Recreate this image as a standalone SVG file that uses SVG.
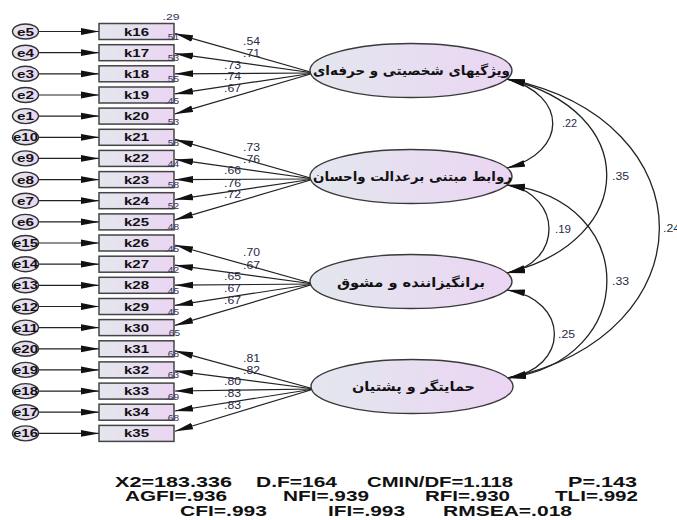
<svg xmlns="http://www.w3.org/2000/svg" width="677" height="520" viewBox="0 0 677 520">
<style>
.box{fill:url(#g);stroke:#444;stroke-width:1.5}
.err{fill:url(#g);stroke:#333;stroke-width:1.4}
.lat{fill:url(#g);stroke:#3a3a3a;stroke-width:1.4}
.ln{stroke:#222;stroke-width:1.2;fill:none;marker-end:url(#ah)}
.cv{stroke:#222;stroke-width:1.3;fill:none;marker-start:url(#ah);marker-end:url(#ah)}
.kt{font-family:"Liberation Sans",Arial,sans-serif;font-weight:bold;font-size:11px;fill:#111;text-anchor:middle}
.et{font-family:"Liberation Sans",Arial,sans-serif;font-weight:bold;font-size:11px;fill:#111;text-anchor:middle}
.lv{font-family:"Liberation Sans",Arial,sans-serif;font-size:10px;fill:#2a2a44}
.r2{font-family:"Liberation Sans",Arial,sans-serif;font-size:9.5px;fill:#33335a;text-anchor:middle}
.ft{font-family:"DejaVu Sans","Noto Sans",sans-serif;font-weight:bold;font-size:13px;fill:#111;text-anchor:middle}
.st{font-family:"Liberation Sans",Arial,sans-serif;font-weight:bold;font-size:14px;fill:#111}
</style>
<defs>
<linearGradient id="g" x1="0" y1="0" x2="1" y2="0">
<stop offset="0" stop-color="#e3e7ee"/>
<stop offset="1" stop-color="#ebd5f3"/>
</linearGradient>
<marker id="ah" viewBox="0 0 18 8" refX="18" refY="4" markerWidth="18" markerHeight="8" markerUnits="userSpaceOnUse" orient="auto-start-reverse">
<path d="M0,0.6 L18,4 L0,7.4 z" fill="#111"/>
</marker>
</defs>
<rect width="677" height="520" fill="#fff"/>

<g id="connectors">
<line class="ln" x1="39" y1="31.5" x2="99" y2="31.5"/>
<line class="ln" x1="39" y1="52.7" x2="99" y2="52.7"/>
<line class="ln" x1="39" y1="73.8" x2="99" y2="73.8"/>
<line class="ln" x1="39" y1="95" x2="99" y2="95"/>
<line class="ln" x1="39" y1="116.1" x2="99" y2="116.1"/>
<line class="ln" x1="39" y1="137.3" x2="99" y2="137.3"/>
<line class="ln" x1="39" y1="158.4" x2="99" y2="158.4"/>
<line class="ln" x1="39" y1="179.6" x2="99" y2="179.6"/>
<line class="ln" x1="39" y1="200.7" x2="99" y2="200.7"/>
<line class="ln" x1="39" y1="221.9" x2="99" y2="221.9"/>
<line class="ln" x1="39" y1="243" x2="99" y2="243"/>
<line class="ln" x1="39" y1="264.2" x2="99" y2="264.2"/>
<line class="ln" x1="39" y1="285.3" x2="99" y2="285.3"/>
<line class="ln" x1="39" y1="306.5" x2="99" y2="306.5"/>
<line class="ln" x1="39" y1="327.6" x2="99" y2="327.6"/>
<line class="ln" x1="39" y1="348.8" x2="99" y2="348.8"/>
<line class="ln" x1="39" y1="369.9" x2="99" y2="369.9"/>
<line class="ln" x1="39" y1="391.1" x2="99" y2="391.1"/>
<line class="ln" x1="39" y1="412.2" x2="99" y2="412.2"/>
<line class="ln" x1="39" y1="433.4" x2="99" y2="433.4"/>
<line class="ln" x1="314" y1="73" x2="175" y2="33.6"/>
<line class="ln" x1="314" y1="73" x2="175" y2="53.7"/>
<line class="ln" x1="314" y1="73" x2="175" y2="73.8"/>
<line class="ln" x1="314" y1="73" x2="175" y2="93.9"/>
<line class="ln" x1="314" y1="73" x2="175" y2="113.9"/>
<line class="ln" x1="314" y1="179" x2="175" y2="139.4"/>
<line class="ln" x1="314" y1="179" x2="175" y2="159.4"/>
<line class="ln" x1="314" y1="179" x2="175" y2="179.6"/>
<line class="ln" x1="314" y1="179" x2="175" y2="199.6"/>
<line class="ln" x1="314" y1="179" x2="175" y2="219.8"/>
<line class="ln" x1="314" y1="284" x2="175" y2="245"/>
<line class="ln" x1="314" y1="284" x2="175" y2="265.2"/>
<line class="ln" x1="314" y1="284" x2="175" y2="285.2"/>
<line class="ln" x1="314" y1="284" x2="175" y2="305.4"/>
<line class="ln" x1="314" y1="284" x2="175" y2="325.4"/>
<line class="ln" x1="314" y1="389" x2="175" y2="350.8"/>
<line class="ln" x1="314" y1="389" x2="175" y2="370.9"/>
<line class="ln" x1="314" y1="389" x2="175" y2="391"/>
<line class="ln" x1="314" y1="389" x2="175" y2="411"/>
<line class="ln" x1="314" y1="389" x2="175" y2="431.2"/>
<path class="cv" d="M507,79 C568,95 568,152 507,168"/>
<path class="cv" d="M507,79 C640,110 640,240 507,273"/>
<path class="cv" d="M507,79 C710,120 710,335 508,378"/>
<path class="cv" d="M507,185 C563,195 563,263 507,273"/>
<path class="cv" d="M507,185 C640,200 640,360 508,378"/>
<path class="cv" d="M507,290 C570,300 570,368 508,378"/>
</g>

<g id="errors">
<g id="e5"><ellipse class="err" cx="25.5" cy="31.5" rx="13" ry="7.5"/><text class="et" x="25.5" y="35.5" textLength="17" lengthAdjust="spacingAndGlyphs">e5</text></g>
<g id="e4"><ellipse class="err" cx="25.5" cy="52.7" rx="13" ry="7.5"/><text class="et" x="25.5" y="56.7" textLength="17" lengthAdjust="spacingAndGlyphs">e4</text></g>
<g id="e3"><ellipse class="err" cx="25.5" cy="73.8" rx="13" ry="7.5"/><text class="et" x="25.5" y="77.8" textLength="17" lengthAdjust="spacingAndGlyphs">e3</text></g>
<g id="e2"><ellipse class="err" cx="25.5" cy="95" rx="13" ry="7.5"/><text class="et" x="25.5" y="99" textLength="17" lengthAdjust="spacingAndGlyphs">e2</text></g>
<g id="e1"><ellipse class="err" cx="25.5" cy="116.1" rx="13" ry="7.5"/><text class="et" x="25.5" y="120.1" textLength="17" lengthAdjust="spacingAndGlyphs">e1</text></g>
<g id="e10"><ellipse class="err" cx="25.5" cy="137.3" rx="13" ry="7.5"/><text class="et" x="25.5" y="141.3" textLength="25" lengthAdjust="spacingAndGlyphs">e10</text></g>
<g id="e9"><ellipse class="err" cx="25.5" cy="158.4" rx="13" ry="7.5"/><text class="et" x="25.5" y="162.4" textLength="17" lengthAdjust="spacingAndGlyphs">e9</text></g>
<g id="e8"><ellipse class="err" cx="25.5" cy="179.6" rx="13" ry="7.5"/><text class="et" x="25.5" y="183.6" textLength="17" lengthAdjust="spacingAndGlyphs">e8</text></g>
<g id="e7"><ellipse class="err" cx="25.5" cy="200.7" rx="13" ry="7.5"/><text class="et" x="25.5" y="204.7" textLength="17" lengthAdjust="spacingAndGlyphs">e7</text></g>
<g id="e6"><ellipse class="err" cx="25.5" cy="221.9" rx="13" ry="7.5"/><text class="et" x="25.5" y="225.9" textLength="17" lengthAdjust="spacingAndGlyphs">e6</text></g>
<g id="e15"><ellipse class="err" cx="25.5" cy="243" rx="13" ry="7.5"/><text class="et" x="25.5" y="247" textLength="25" lengthAdjust="spacingAndGlyphs">e15</text></g>
<g id="e14"><ellipse class="err" cx="25.5" cy="264.2" rx="13" ry="7.5"/><text class="et" x="25.5" y="268.2" textLength="25" lengthAdjust="spacingAndGlyphs">e14</text></g>
<g id="e13"><ellipse class="err" cx="25.5" cy="285.3" rx="13" ry="7.5"/><text class="et" x="25.5" y="289.3" textLength="25" lengthAdjust="spacingAndGlyphs">e13</text></g>
<g id="e12"><ellipse class="err" cx="25.5" cy="306.5" rx="13" ry="7.5"/><text class="et" x="25.5" y="310.5" textLength="25" lengthAdjust="spacingAndGlyphs">e12</text></g>
<g id="e11"><ellipse class="err" cx="25.5" cy="327.6" rx="13" ry="7.5"/><text class="et" x="25.5" y="331.6" textLength="25" lengthAdjust="spacingAndGlyphs">e11</text></g>
<g id="e20"><ellipse class="err" cx="25.5" cy="348.8" rx="13" ry="7.5"/><text class="et" x="25.5" y="352.8" textLength="25" lengthAdjust="spacingAndGlyphs">e20</text></g>
<g id="e19"><ellipse class="err" cx="25.5" cy="369.9" rx="13" ry="7.5"/><text class="et" x="25.5" y="373.9" textLength="25" lengthAdjust="spacingAndGlyphs">e19</text></g>
<g id="e18"><ellipse class="err" cx="25.5" cy="391.1" rx="13" ry="7.5"/><text class="et" x="25.5" y="395.1" textLength="25" lengthAdjust="spacingAndGlyphs">e18</text></g>
<g id="e17"><ellipse class="err" cx="25.5" cy="412.2" rx="13" ry="7.5"/><text class="et" x="25.5" y="416.2" textLength="25" lengthAdjust="spacingAndGlyphs">e17</text></g>
<g id="e16"><ellipse class="err" cx="25.5" cy="433.4" rx="13" ry="7.5"/><text class="et" x="25.5" y="437.4" textLength="25" lengthAdjust="spacingAndGlyphs">e16</text></g>
</g>

<g id="indicators">
<g id="k16"><rect class="box" x="99" y="23.5" width="75" height="16"/><text class="kt" x="136.5" y="35.5" textLength="25" lengthAdjust="spacingAndGlyphs">k16</text></g>
<g id="k17"><rect class="box" x="99" y="44.7" width="75" height="16"/><text class="kt" x="136.5" y="56.7" textLength="25" lengthAdjust="spacingAndGlyphs">k17</text></g>
<g id="k18"><rect class="box" x="99" y="65.8" width="75" height="16"/><text class="kt" x="136.5" y="77.8" textLength="25" lengthAdjust="spacingAndGlyphs">k18</text></g>
<g id="k19"><rect class="box" x="99" y="87" width="75" height="16"/><text class="kt" x="136.5" y="99" textLength="25" lengthAdjust="spacingAndGlyphs">k19</text></g>
<g id="k20"><rect class="box" x="99" y="108.1" width="75" height="16"/><text class="kt" x="136.5" y="120.1" textLength="25" lengthAdjust="spacingAndGlyphs">k20</text></g>
<g id="k21"><rect class="box" x="99" y="129.3" width="75" height="16"/><text class="kt" x="136.5" y="141.3" textLength="25" lengthAdjust="spacingAndGlyphs">k21</text></g>
<g id="k22"><rect class="box" x="99" y="150.4" width="75" height="16"/><text class="kt" x="136.5" y="162.4" textLength="25" lengthAdjust="spacingAndGlyphs">k22</text></g>
<g id="k23"><rect class="box" x="99" y="171.6" width="75" height="16"/><text class="kt" x="136.5" y="183.6" textLength="25" lengthAdjust="spacingAndGlyphs">k23</text></g>
<g id="k24"><rect class="box" x="99" y="192.7" width="75" height="16"/><text class="kt" x="136.5" y="204.7" textLength="25" lengthAdjust="spacingAndGlyphs">k24</text></g>
<g id="k25"><rect class="box" x="99" y="213.9" width="75" height="16"/><text class="kt" x="136.5" y="225.9" textLength="25" lengthAdjust="spacingAndGlyphs">k25</text></g>
<g id="k26"><rect class="box" x="99" y="235" width="75" height="16"/><text class="kt" x="136.5" y="247" textLength="25" lengthAdjust="spacingAndGlyphs">k26</text></g>
<g id="k27"><rect class="box" x="99" y="256.2" width="75" height="16"/><text class="kt" x="136.5" y="268.2" textLength="25" lengthAdjust="spacingAndGlyphs">k27</text></g>
<g id="k28"><rect class="box" x="99" y="277.3" width="75" height="16"/><text class="kt" x="136.5" y="289.3" textLength="25" lengthAdjust="spacingAndGlyphs">k28</text></g>
<g id="k29"><rect class="box" x="99" y="298.5" width="75" height="16"/><text class="kt" x="136.5" y="310.5" textLength="25" lengthAdjust="spacingAndGlyphs">k29</text></g>
<g id="k30"><rect class="box" x="99" y="319.6" width="75" height="16"/><text class="kt" x="136.5" y="331.6" textLength="25" lengthAdjust="spacingAndGlyphs">k30</text></g>
<g id="k31"><rect class="box" x="99" y="340.8" width="75" height="16"/><text class="kt" x="136.5" y="352.8" textLength="25" lengthAdjust="spacingAndGlyphs">k31</text></g>
<g id="k32"><rect class="box" x="99" y="361.9" width="75" height="16"/><text class="kt" x="136.5" y="373.9" textLength="25" lengthAdjust="spacingAndGlyphs">k32</text></g>
<g id="k33"><rect class="box" x="99" y="383.1" width="75" height="16"/><text class="kt" x="136.5" y="395.1" textLength="25" lengthAdjust="spacingAndGlyphs">k33</text></g>
<g id="k34"><rect class="box" x="99" y="404.2" width="75" height="16"/><text class="kt" x="136.5" y="416.2" textLength="25" lengthAdjust="spacingAndGlyphs">k34</text></g>
<g id="k35"><rect class="box" x="99" y="425.4" width="75" height="16"/><text class="kt" x="136.5" y="437.4" textLength="25" lengthAdjust="spacingAndGlyphs">k35</text></g>
</g>

<g id="latents">
<g id="f1"><ellipse class="lat" cx="411" cy="70.5" rx="101" ry="27"/><text class="ft" x="411.5" y="75" textLength="197" lengthAdjust="spacingAndGlyphs">ویژگیهای شخصیتی و حرفه‌ای</text></g>
<g id="f2"><ellipse class="lat" cx="411" cy="176.5" rx="101" ry="27"/><text class="ft" x="412.5" y="181" textLength="199" lengthAdjust="spacingAndGlyphs">روابط مبتنی برعدالت واحسان</text></g>
<g id="f3"><ellipse class="lat" cx="411" cy="281.5" rx="101" ry="27"/><text class="ft" x="411" y="287" textLength="148" lengthAdjust="spacingAndGlyphs">برانگیزاننده و مشوق</text></g>
<g id="f4"><ellipse class="lat" cx="412" cy="386.5" rx="101" ry="27"/><text class="ft" x="413.5" y="391" textLength="123" lengthAdjust="spacingAndGlyphs">حمایتگر و پشتیان</text></g>
</g>

<g id="r2-labels">
<text class="r2" x="171" y="20" textLength="17" lengthAdjust="spacingAndGlyphs">.29</text>
<text class="r2" x="172" y="40" textLength="14" lengthAdjust="spacingAndGlyphs">.51</text>
<text class="r2" x="172" y="61.2" textLength="14" lengthAdjust="spacingAndGlyphs">.53</text>
<text class="r2" x="172" y="82.3" textLength="14" lengthAdjust="spacingAndGlyphs">.55</text>
<text class="r2" x="172" y="103.5" textLength="14" lengthAdjust="spacingAndGlyphs">.45</text>
<text class="r2" x="172" y="124.6" textLength="14" lengthAdjust="spacingAndGlyphs">.53</text>
<text class="r2" x="172" y="145.8" textLength="14" lengthAdjust="spacingAndGlyphs">.58</text>
<text class="r2" x="172" y="166.9" textLength="14" lengthAdjust="spacingAndGlyphs">.44</text>
<text class="r2" x="172" y="188.1" textLength="14" lengthAdjust="spacingAndGlyphs">.58</text>
<text class="r2" x="172" y="209.2" textLength="14" lengthAdjust="spacingAndGlyphs">.52</text>
<text class="r2" x="172" y="230.4" textLength="14" lengthAdjust="spacingAndGlyphs">.48</text>
<text class="r2" x="172" y="251.5" textLength="14" lengthAdjust="spacingAndGlyphs">.45</text>
<text class="r2" x="172" y="272.7" textLength="14" lengthAdjust="spacingAndGlyphs">.42</text>
<text class="r2" x="172" y="293.8" textLength="14" lengthAdjust="spacingAndGlyphs">.45</text>
<text class="r2" x="172" y="315" textLength="14" lengthAdjust="spacingAndGlyphs">.45</text>
<text class="r2" x="173" y="336.1" textLength="14" lengthAdjust="spacingAndGlyphs">.65</text>
<text class="r2" x="172" y="357.3" textLength="14" lengthAdjust="spacingAndGlyphs">.68</text>
<text class="r2" x="172" y="378.4" textLength="14" lengthAdjust="spacingAndGlyphs">.63</text>
<text class="r2" x="172" y="399.6" textLength="14" lengthAdjust="spacingAndGlyphs">.69</text>
<text class="r2" x="172" y="420.7" textLength="14" lengthAdjust="spacingAndGlyphs">.68</text>
</g>

<g id="loading-labels">
<text class="lv" x="243" y="44.5" textLength="17" lengthAdjust="spacingAndGlyphs">.54</text>
<text class="lv" x="243" y="56.8" textLength="17" lengthAdjust="spacingAndGlyphs">.71</text>
<text class="lv" x="224" y="69" textLength="17" lengthAdjust="spacingAndGlyphs">.73</text>
<text class="lv" x="224" y="80.2" textLength="17" lengthAdjust="spacingAndGlyphs">.74</text>
<text class="lv" x="224" y="91.8" textLength="17" lengthAdjust="spacingAndGlyphs">.67</text>
<text class="lv" x="243" y="151" textLength="17" lengthAdjust="spacingAndGlyphs">.73</text>
<text class="lv" x="243" y="163.3" textLength="17" lengthAdjust="spacingAndGlyphs">.76</text>
<text class="lv" x="224" y="174.3" textLength="17" lengthAdjust="spacingAndGlyphs">.66</text>
<text class="lv" x="224" y="186.7" textLength="17" lengthAdjust="spacingAndGlyphs">.76</text>
<text class="lv" x="224" y="198.3" textLength="17" lengthAdjust="spacingAndGlyphs">.72</text>
<text class="lv" x="243" y="256.3" textLength="17" lengthAdjust="spacingAndGlyphs">.70</text>
<text class="lv" x="243" y="268.6" textLength="17" lengthAdjust="spacingAndGlyphs">.67</text>
<text class="lv" x="224" y="279.6" textLength="17" lengthAdjust="spacingAndGlyphs">.65</text>
<text class="lv" x="224" y="292" textLength="17" lengthAdjust="spacingAndGlyphs">.67</text>
<text class="lv" x="224" y="303.6" textLength="17" lengthAdjust="spacingAndGlyphs">.67</text>
<text class="lv" x="243" y="361.6" textLength="17" lengthAdjust="spacingAndGlyphs">.81</text>
<text class="lv" x="243" y="373.9" textLength="17" lengthAdjust="spacingAndGlyphs">.82</text>
<text class="lv" x="224" y="384.9" textLength="17" lengthAdjust="spacingAndGlyphs">.80</text>
<text class="lv" x="224" y="397.3" textLength="17" lengthAdjust="spacingAndGlyphs">.83</text>
<text class="lv" x="224" y="408.9" textLength="17" lengthAdjust="spacingAndGlyphs">.83</text>
</g>

<g id="covariance-labels">
<text class="lv" x="562" y="127.3" textLength="15" lengthAdjust="spacingAndGlyphs">.22</text>
<text class="lv" x="612" y="180" textLength="17" lengthAdjust="spacingAndGlyphs">.35</text>
<text class="lv" x="663" y="231.7" textLength="17" lengthAdjust="spacingAndGlyphs">.24</text>
<text class="lv" x="555" y="233.3" textLength="16" lengthAdjust="spacingAndGlyphs">.19</text>
<text class="lv" x="612" y="285" textLength="17" lengthAdjust="spacingAndGlyphs">.33</text>
<text class="lv" x="558" y="338.3" textLength="17" lengthAdjust="spacingAndGlyphs">.25</text>
</g>

<g id="fit-indices">
<text class="st" x="115" y="486.5" textLength="117" lengthAdjust="spacingAndGlyphs">X2=183.336</text>
<text class="st" x="256" y="486.5" textLength="81" lengthAdjust="spacingAndGlyphs">D.F=164</text>
<text class="st" x="367" y="486.5" textLength="146" lengthAdjust="spacingAndGlyphs">CMIN/DF=1.118</text>
<text class="st" x="568" y="486.5" textLength="69" lengthAdjust="spacingAndGlyphs">P=.143</text>
<text class="st" x="125" y="501.3" textLength="102" lengthAdjust="spacingAndGlyphs">AGFI=.936</text>
<text class="st" x="283" y="501.3" textLength="86" lengthAdjust="spacingAndGlyphs">NFI=.939</text>
<text class="st" x="425" y="501.3" textLength="85" lengthAdjust="spacingAndGlyphs">RFI=.930</text>
<text class="st" x="555" y="501.3" textLength="83" lengthAdjust="spacingAndGlyphs">TLI=.992</text>
<text class="st" x="180" y="516.3" textLength="87" lengthAdjust="spacingAndGlyphs">CFI=.993</text>
<text class="st" x="328" y="516.3" textLength="77" lengthAdjust="spacingAndGlyphs">IFI=.993</text>
<text class="st" x="443" y="516.3" textLength="129" lengthAdjust="spacingAndGlyphs">RMSEA=.018</text>
</g>
</svg>
